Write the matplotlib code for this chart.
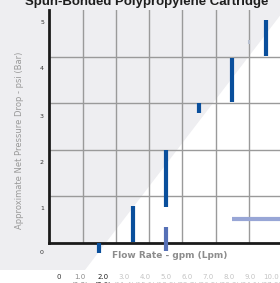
import matplotlib
matplotlib.use('Agg')
import matplotlib.pyplot as plt
from matplotlib.patches import Polygon

# data (grid units: one vertical cell = 1 psi-step, one column = 1 flow step)
bar_x = [1.5, 2.5, 3.5, 4.5, 5.5, 6.5]
bar_lo = [-0.22, 0.03, 0.78, 2.80, 3.04, 4.03]
bar_hi = [0.0, 0.80, 1.99, 3.00, 3.98, 4.80]
light_x = [3.5]
light_lo = [-0.17]
light_hi = [0.35]
hbar_y = [0.52]
hbar_x0 = [5.49]
hbar_x1 = [6.93]

ytick_labels = ['0', '1', '2', '3', '4', '5']
xtick_gpm = ['0', '1.0', '2.0', '3.0', '4.0', '5.0', '6.0', '7.0', '8.0', '9.0', '10.0']
xtick_lpm = ['', '(3.8)', '(7.6)', '(11.4)', '(15.1)', '(18.9)', '(22.7)',
             '(26.5)', '(30.3)', '(34.1)', '(37.9)']

W, H = 280, 283
def fx(px):
    return px / W
def fy(py):
    return 1 - py / H

fig = plt.figure(figsize=(2.8, 2.83), dpi=100)
fig.patch.set_facecolor('white')

# light grey backdrop with the diagonal cut
bg = Polygon([(fx(0), fy(0)), (fx(292), fy(0)), (fx(85), fy(270)), (fx(0), fy(270))],
             closed=True, transform=fig.transFigure, facecolor='#eeeef1',
             edgecolor='none', zorder=-5)
fig.patches.append(bg)

ax = fig.add_axes([fx(49.3), fy(243), (W - 49.3) / W, (243 - 10) / H])
ax.set_zorder(2)
ax.set_facecolor('none')
ax.set_xlim(0, 6.93)
ax.set_ylim(0, 5.01)
for s in ['top', 'right']:
    ax.spines[s].set_visible(False)
for s in ['left', 'bottom']:
    ax.spines[s].set_linewidth(2)
    ax.spines[s].set_color('#1a1a1a')
ax.set_xticks([])
ax.set_yticks([])

for gx in range(1, 7):
    ax.axvline(gx, color='#9a9a9a', lw=1.0, zorder=1)
for gy in range(1, 5):
    ax.axhline(gy, color='#9a9a9a', lw=1.0, zorder=1)

ax.vlines(bar_x, bar_lo, bar_hi, color='#0a4f9c', lw=3, clip_on=False, zorder=3)
ax.vlines(light_x, light_lo, light_hi, color='#5670b6', lw=3, clip_on=False, zorder=3)
ax.hlines(hbar_y, hbar_x0, hbar_x1, color='#98a6d6', lw=3, clip_on=False, zorder=3)
ax.vlines([6.0], [4.27], [4.36], color='#b8c0d0', lw=1.5, zorder=2)

# labels
fig.text(fx(147), fy(5), 'Spun-Bonded Polypropylene Cartridge', ha='center',
         va='baseline', fontsize=9.5, fontweight='bold', family='Liberation Sans',
         color='#1e1e1e')

ylab_py = [253, 208, 162, 116, 69, 22]
for t, py in zip(ytick_labels, ylab_py):
    fig.text(fx(44), fy(py), t, ha='right', va='center', fontsize=4.5, color='#333333')

xlab_px = [59, 80, 103, 124, 145, 166, 187, 208, 229, 250, 271]
xcols = ['#333333', '#8a8a8a', '#222222'] + ['#c4c4c4'] * 8
for t, t2, px, c in zip(xtick_gpm, xtick_lpm, xlab_px, xcols):
    fig.text(fx(px), fy(277), t, ha='center', va='center', fontsize=5, color=c)
    fig.text(fx(px), fy(285), t2, ha='center', va='center', fontsize=5, color=c)

fig.text(fx(170), fy(256), 'Flow Rate - gpm (Lpm)', ha='center', va='center',
         fontsize=6.5, color='#8c8c8c', fontweight='bold')
fig.text(fx(20), fy(140), 'Approximate Net Pressure Drop - psi (Bar)', ha='center',
         va='center', rotation=90, fontsize=6, color='#999999')

fig.savefig('out.png', dpi=100)
